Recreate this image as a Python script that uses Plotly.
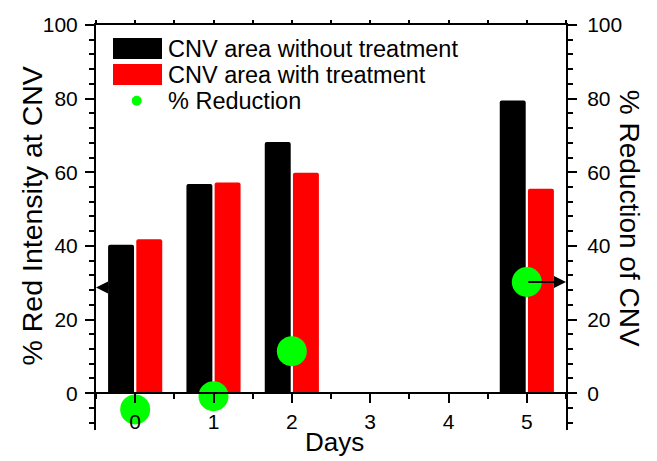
import plotly.graph_objects as go

days = [0, 1, 2, 5]
without_treatment = [40.3, 56.8, 68.2, 79.5]
with_treatment = [41.8, 57.2, 59.9, 55.5]
reduction = [-4.4, -0.8, 11.4, 30.2]
series_names = ["CNV area without treatment", "CNV area with treatment", "% Reduction"]
left_arrow_y = [28.7]

x_range = [-0.5, 5.5]
y_range = [-10, 100]

W, H = 657, 461
ML, MR, MT, MB = 96, 91, 25, 31
PW, PH = W - ML - MR, H - MT - MB


def px(x):
    return (x - ML) / PW


def py(y):
    return (H - MB - y) / PH


FONT = "Liberation Sans, Arial, Helvetica, sans-serif"
GREEN = "#00FF00"

fig = go.Figure()
fig.add_trace(go.Bar(x=days, y=without_treatment, name=series_names[0],
                     marker=dict(color="black", line=dict(width=0)), showlegend=False))
fig.add_trace(go.Bar(x=days, y=with_treatment, name=series_names[1],
                     marker=dict(color="#FF0000", line=dict(width=0)), showlegend=False))
fig.add_trace(go.Scatter(x=days, y=reduction, name=series_names[2], mode="markers",
                         marker=dict(color=GREEN, size=30), yaxis="y2",
                         cliponaxis=False, showlegend=False))
fig.add_trace(go.Scatter(x=[None], y=[None], xaxis="x2", showlegend=False, hoverinfo="skip"))

axis_common = dict(showline=True, linecolor="black", linewidth=2, showgrid=False,
                   zeroline=False, ticks="outside", tickcolor="black", tickwidth=2)

fig.update_layout(
    width=W, height=H,
    margin=dict(l=ML, r=MR, t=MT, b=MB),
    paper_bgcolor="white", plot_bgcolor="white",
    barmode="group", bargap=0.28, bargroupgap=0.08, barcornerradius=2,
    font=dict(family=FONT, color="black"),
    xaxis=dict(range=x_range, anchor="free", position=10 / 110, dtick=1, tick0=0,
               ticklen=9, tickfont=dict(size=21), ticklabelstandoff=1,
               minor=dict(dtick=0.5, tick0=0, ticklen=5, tickwidth=2, ticks="outside", tickcolor="black"),
               **axis_common),
    xaxis2=dict(range=x_range, overlaying="x", side="top", anchor="y", dtick=1, tick0=0,
                ticklen=3, showticklabels=False,
                minor=dict(dtick=0.5, tick0=0, ticklen=3, tickwidth=2, ticks="outside", tickcolor="black"),
                **axis_common),
    yaxis=dict(range=y_range, dtick=20, tick0=0, ticklen=9, tickfont=dict(size=21),
               ticklabelstandoff=3,
               minor=dict(dtick=4, tick0=0, ticklen=5, tickwidth=2, ticks="outside", tickcolor="black"),
               **axis_common),
    yaxis2=dict(range=y_range, overlaying="y", side="right", anchor="x", dtick=20, tick0=0,
                ticklen=9, tickfont=dict(size=21), ticklabelstandoff=6,
                minor=dict(dtick=4, tick0=0, ticklen=5, tickwidth=2, ticks="outside", tickcolor="black"),
                **axis_common),
)

# arrows indicating axis association
fig.add_annotation(x=x_range[1], y=reduction[-1], xref="x", yref="y2",
                   ax=days[-1], ay=reduction[-1], axref="x", ayref="y2",
                   text="", showarrow=True, arrowhead=2, arrowsize=1.2, arrowwidth=2,
                   arrowcolor="black")
fig.add_annotation(x=x_range[0], y=left_arrow_y[0], xref="x", yref="y",
                   ax=-0.2, ay=left_arrow_y[0], axref="x", ayref="y",
                   text="", showarrow=True, arrowhead=2, arrowsize=1.2, arrowwidth=2,
                   arrowcolor="black")

# manual legend
shapes = [
    dict(type="rect", xref="paper", yref="paper", x0=px(113), x1=px(162), y0=py(59), y1=py(38),
         fillcolor="black", line=dict(width=0)),
    dict(type="rect", xref="paper", yref="paper", x0=px(113), x1=px(162), y0=py(85), y1=py(64),
         fillcolor="#FF0000", line=dict(width=0)),
    dict(type="circle", xref="paper", yref="paper", x0=px(131.7), x1=px(141.7), y0=py(105.7), y1=py(95.7),
         fillcolor=GREEN, line=dict(width=0)),
]
fig.update_layout(shapes=shapes)
for name, yc in zip(series_names, [48.5, 74.5, 100.5]):
    fig.add_annotation(x=px(166), y=py(yc), xref="paper", yref="paper", text=name,
                       showarrow=False, xanchor="left", yanchor="middle",
                       font=dict(size=23.5, family=FONT, color="black"))

# axis titles
fig.add_annotation(x=px(334), y=py(441.5), xref="paper", yref="paper", text="Days",
                   showarrow=False, xanchor="center", yanchor="middle",
                   font=dict(size=26, family=FONT, color="black"))
fig.add_annotation(x=px(31), y=py(216.5), xref="paper", yref="paper", text="% Red Intensity at CNV",
                   showarrow=False, textangle=-90, xanchor="center", yanchor="middle",
                   font=dict(size=28.5, family=FONT, color="black"))
fig.add_annotation(x=px(629.7), y=py(218.5), xref="paper", yref="paper", text="% Reduction of CNV",
                   showarrow=False, textangle=90, xanchor="center", yanchor="middle",
                   font=dict(size=28, family=FONT, color="black"))

fig.write_html("out.html", config={"displayModeBar": False},
               post_script="document.body.style.margin='0';document.body.style.overflow='hidden';")
